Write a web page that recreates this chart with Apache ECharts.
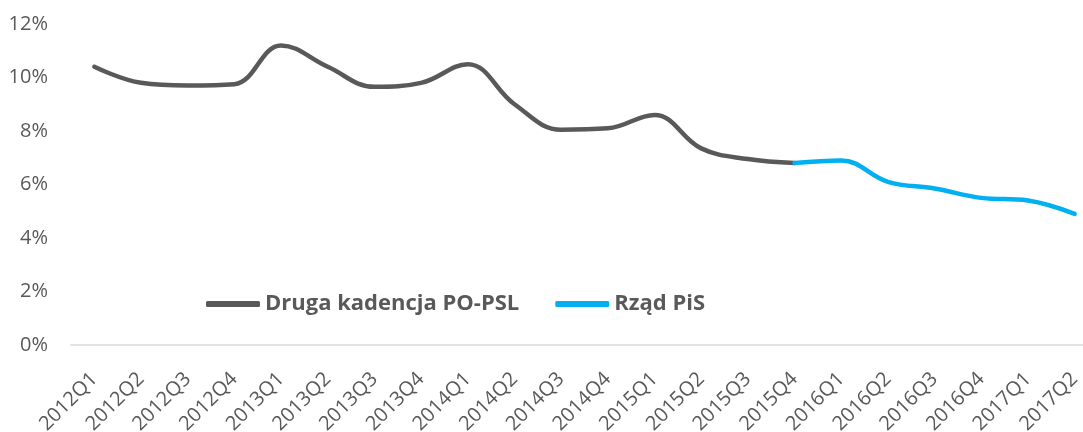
<!DOCTYPE html>
<html>
<head>
<meta charset="utf-8">
<script src="https://cdn.jsdelivr.net/npm/echarts@6/dist/echarts.min.js"></script>
<style>
  html, body { margin: 0; padding: 0; background: #fff; }
  #chart { width: 1083px; height: 432px; }
</style>
</head>
<body>
<div id="chart"></div>
<script>
// quarters on the x axis
const quarters = [
  '2012Q1', '2012Q2', '2012Q3', '2012Q4',
  '2013Q1', '2013Q2', '2013Q3', '2013Q4',
  '2014Q1', '2014Q2', '2014Q3', '2014Q4',
  '2015Q1', '2015Q2', '2015Q3', '2015Q4',
  '2016Q1', '2016Q2', '2016Q3', '2016Q4',
  '2017Q1', '2017Q2'
]
// unemployment rate, %
const poPslValues = [10.4, 9.8, 9.7, 9.75, 11.2, 10.4, 9.65, 9.8, 10.5, 9.0, 8.05, 8.1, 8.6, 7.35, 6.95, 6.8]
const pisValues = [6.8, 6.9, 6.1, 5.85, 5.5, 5.4, 4.9]
const pisStart = 15
const yTicks = [0, 2, 4, 6, 8, 10, 12]

const grey = '#595959'
const blue = '#00B0F0'

const greyData = quarters.map((q, i) => (i < poPslValues.length ? poPslValues[i] : null))
const blueData = quarters.map((q, i) => (i >= pisStart ? pisValues[i - pisStart] : null))

const chart = echarts.init(document.getElementById('chart'))
chart.setOption({
  animation: false,
  textStyle: { fontFamily: 'Open Sans' },
  grid: { left: 71, right: -15, top: 24, bottom: 87, outerBoundsMode: 'none' },
  legend: {
    left: 201,
    top: 288,
    itemWidth: 54,
    itemHeight: 6,
    itemGap: 36,
    icon: 'roundRect',
    textStyle: { fontSize: 22, fontWeight: 'bold', color: grey, fontFamily: 'Open Sans' },
    data: ['Druga kadencja PO-PSL', 'Rząd PiS']
  },
  xAxis: {
    type: 'category',
    data: quarters,
    boundaryGap: true,
    axisLine: { lineStyle: { color: '#d9d9d9', width: 1.5 } },
    axisTick: { show: false },
    axisLabel: { interval: 0, rotate: 45, fontSize: 20, color: grey, margin: 31 }
  },
  yAxis: {
    type: 'value',
    min: yTicks[0],
    max: yTicks[yTicks.length - 1],
    interval: 2,
    splitLine: { show: false },
    axisLine: { show: false },
    axisTick: { show: false },
    axisLabel: { fontSize: 20, color: grey, margin: 23, formatter: v => v + '%' }
  },
  series: [
    {
      name: 'Druga kadencja PO-PSL',
      type: 'line',
      data: greyData,
      smooth: 0.4,
      showSymbol: false,
      lineStyle: { color: grey, width: 4.5, cap: 'round' },
      itemStyle: { color: grey }
    },
    {
      name: 'Rząd PiS',
      type: 'line',
      data: blueData,
      smooth: 0.4,
      showSymbol: false,
      lineStyle: { color: blue, width: 4.5, cap: 'round' },
      itemStyle: { color: blue }
    }
  ]
})
</script>
</body>
</html>
